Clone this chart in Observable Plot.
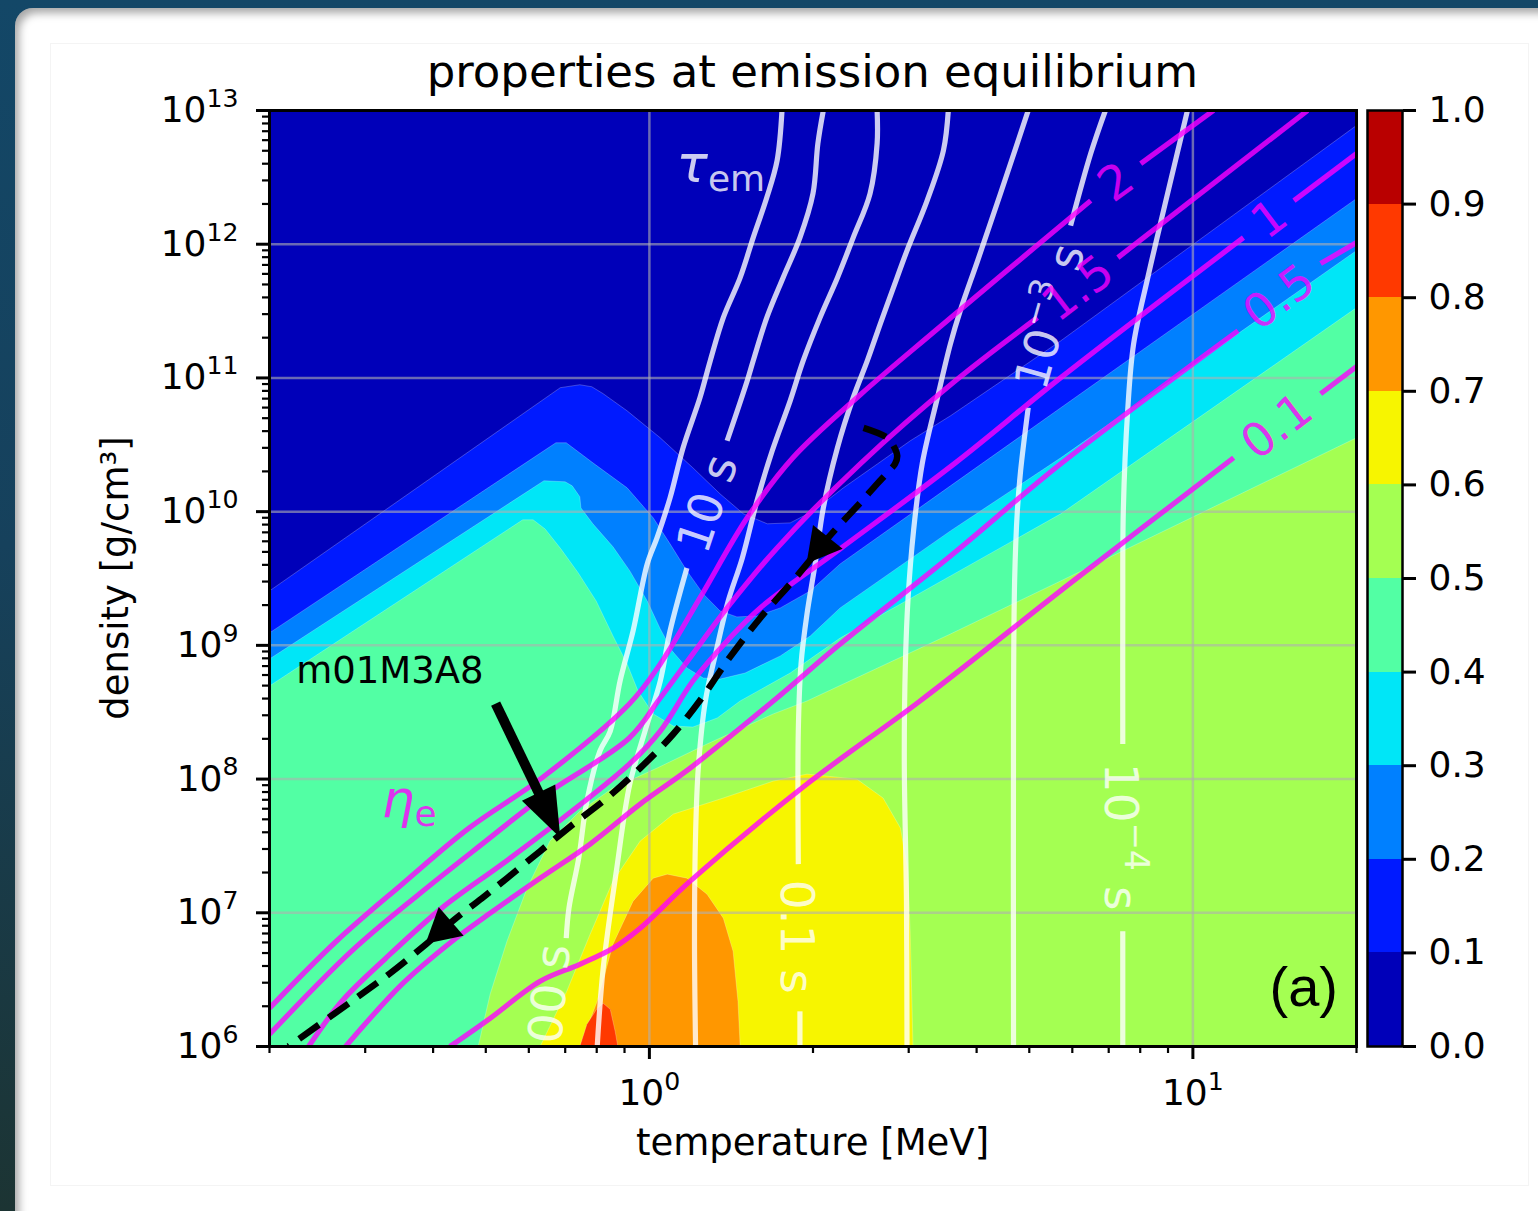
<!DOCTYPE html>
<html>
<head>
<meta charset="utf-8">
<script src="https://cdn.jsdelivr.net/npm/d3@7"></script>
<script src="https://cdn.jsdelivr.net/npm/@observablehq/plot@0.6"></script>
<style>
  html, body { margin: 0; padding: 0; width: 1538px; height: 1211px; overflow: hidden; }
  body { background: linear-gradient(180deg, #134767 0%, #16415c 45%, #1c3433 100%); font-family: "DejaVu Sans", sans-serif; }
  #card { position: absolute; left: 15px; top: 8px; width: 1580px; height: 1260px; background: #fff;
          border-radius: 18px; box-shadow: inset 4px 5px 9px rgba(0, 0, 0, 0.35); }
  #figure { position: absolute; left: 50px; top: 43px; width: 1477px; height: 1141px; border: 1px solid #f4f4f4; }
  #main { position: absolute; left: 0; top: 0; }
  #cbar { position: absolute; left: 1360px; top: 0; }
  svg text { white-space: pre; }
</style>
</head>
<body>
<div id="card"></div>
<div id="figure"></div>
<div id="main"></div>
<div id="cbar"></div>
<script>
// ---- axes -------------------------------------------------------------
const tempDomain = [0.2, 20];          // MeV
const rhoDomain = [1e6, 1e13];         // g/cm^3
const tempTicks = [1, 10];
const tempMinorTicks = [0.2, 0.3, 0.4, 0.5, 0.6, 0.7, 0.8, 0.9, 2, 3, 4, 5, 6, 7, 8, 9, 20];
const rhoTicks = [1e6, 1e7, 1e8, 1e9, 1e10, 1e11, 1e12, 1e13];
const rhoMinorTicks = rhoTicks.slice(0, -1).flatMap(d => [2, 3, 4, 5, 6, 7, 8, 9].map(k => k * d));

// ---- filled levels (colour bar) ------------------------------------------
const levels = [0, 0.1, 0.2, 0.3, 0.4, 0.5, 0.6, 0.7, 0.8, 0.9, 1.0];
const levelColors = ["#0000b9", "#001aff", "#0080ff", "#00e6f7", "#52ffa4",
                     "#a4ff52", "#f7f500", "#ff9700", "#ff3900", "#b90000"];

// Level boundaries, points as [log10 T/MeV, log10 rho/(g cm^-3)]
const edge01 = [[-0.699,9.407],[-0.164,10.927],[-0.128,10.949],[-0.106,10.934],[-0.085,10.882],[-0.041,10.754],
  [0.020,10.552],[0.080,10.328],[0.130,10.133],[0.173,9.984],[0.217,9.909],[0.259,9.916],[0.302,10.006],
  [0.357,10.178],[0.420,10.358],[0.480,10.530],[0.554,10.717],[0.757,11.278],[1.301,12.888]];
const edge02 = [[-0.699,9.093],[-0.172,10.515],[-0.153,10.515],[-0.104,10.365],[-0.041,10.178],[0.007,9.954],
  [0.038,9.759],[0.069,9.557],[0.099,9.385],[0.130,9.257],[0.161,9.213],[0.198,9.220],[0.241,9.280],
  [0.296,9.407],[0.351,9.609],[0.554,10.193],[0.757,10.777],[1.301,12.341]];
const edge03 = [[-0.699,8.898],[-0.194,10.231],[-0.155,10.223],[-0.142,10.193],[-0.128,10.111],[-0.126,10.028],
  [-0.104,9.909],[-0.067,9.737],[-0.036,9.557],[-0.004,9.332],[0.020,9.123],[0.042,8.958],[0.069,8.831],
  [0.099,8.756],[0.130,8.748],[0.176,8.793],[0.241,8.921],[0.296,9.070],[0.351,9.280],[0.554,9.856],
  [0.757,10.403],[1.301,11.952]];
const edge04 = [[-0.699,8.696],[-0.233,9.939],[-0.214,9.939],[-0.192,9.871],[-0.163,9.722],[-0.131,9.542],
  [-0.098,9.332],[-0.067,9.070],[-0.041,8.861],[-0.021,8.659],[0.007,8.487],[0.044,8.397],[0.080,8.389],
  [0.125,8.457],[0.167,8.584],[0.259,8.793],[0.351,9.055],[0.554,9.519],[0.757,9.984],[1.301,11.525]];
const edge05 = [[-0.315,6],[-0.293,6.391],[-0.262,6.787],[-0.225,7.184],[-0.183,7.536],[-0.128,7.760],
  [-0.067,7.933],[0.014,8.082],[0.106,8.262],[0.228,8.487],[0.290,8.584],[0.554,9.085],[0.757,9.482],[1.301,10.552]];
const edge06 = [[-0.201,6],[-0.152,6.413],[-0.109,6.840],[-0.067,7.237],[-0.017,7.536],[0.044,7.738],[0.136,7.858],
  [0.228,7.985],[0.290,8.037],[0.382,7.999],[0.430,7.858],[0.462,7.633],[0.475,7.334],[0.480,6.840],[0.485,6]];
const edge07 = [[-0.128,6],[-0.096,6.338],[-0.067,6.765],[-0.030,7.087],[0.007,7.259],[0.033,7.289],[0.069,7.259],
  [0.106,7.139],[0.136,6.960],[0.154,6.713],[0.163,6.338],[0.167,6]];
const edge08 = [[-0.128,6],[-0.115,6.166],[-0.096,6.286],[-0.085,6.323],[-0.072,6.278],[-0.063,6.114],[-0.058,6]];
const bandEdges = [
  {level: 0.1, edge: edge01}, {level: 0.2, edge: edge02}, {level: 0.3, edge: edge03}, {level: 0.4, edge: edge04},
  {level: 0.5, edge: edge05}, {level: 0.6, edge: edge06}, {level: 0.7, edge: edge07}, {level: 0.8, edge: edge08}
];

// Emission time-scale contours (white), each a list of segments
const tau100 = [[[0.244,13],[0.235,12.626],[0.216,12.349],[0.191,12.049],[0.167,11.750],[0.136,11.451],[0.112,11.129],
  [0.093,10.852],[0.062,10.478],[0.038,10.103],[0.014,9.804],[-0.004,9.609],[-0.030,9.108],[-0.054,8.733],
  [-0.072,8.359],[-0.091,8.210],[-0.115,7.835],[-0.130,7.409],[-0.148,7.035],[-0.153,6.810]]];
const tau10 = [[[0.320,13],[0.310,12.753],[0.301,12.379],[0.277,12.049],[0.246,11.750],[0.216,11.451],[0.191,11.129],
  [0.180,10.979],[0.143,10.530]],
  [[0.069,9.579],[0.038,9.108],[0.020,8.733],[-0.008,8.359],[-0.036,7.963],[-0.060,7.334],[-0.085,6.585],[-0.096,6]]];
const tau1 = [[[0.419,13],[0.419,12.753],[0.406,12.379],[0.375,12.049],[0.346,11.750],[0.314,11.451],[0.283,11.129],
  [0.259,10.829],[0.226,10.455],[0.198,10.081],[0.171,9.654],[0.145,9.332],[0.123,8.958],[0.103,8.584],
  [0.090,8.082],[0.085,7.588],[0.083,6.840],[0.085,6]]];
const tau01 = [[[0.550,13],[0.541,12.701],[0.511,12.326],[0.474,11.952],[0.449,11.675],[0.425,11.406],[0.401,11.129],
  [0.375,10.852],[0.346,10.478],[0.320,10.028],[0.305,9.609],[0.290,9.235],[0.279,8.861],[0.274,8.359],[0.274,7.364]],
  [[0.277,6.263],[0.277,6]]];
const tau001 = [[[0.697,13],[0.646,12.379],[0.604,11.877],[0.572,11.503],[0.554,11.256],[0.530,10.852],[0.502,10.358],
  [0.486,9.856],[0.476,9.355],[0.471,8.861],[0.469,8.135],[0.473,7.087],[0.474,6]]];
const tau1e3 = [[[0.839,13],[0.812,12.678],[0.775,12.139]],
  [[0.697,10.777],[0.683,10.305],[0.677,10.006],[0.672,9.482],[0.670,8.584],[0.670,6]]];
const tau1e4 = [[[0.990,13],[0.968,12.626],[0.946,12.252],[0.917,11.750],[0.891,11.256],[0.880,10.754],[0.872,10.006],
  [0.871,9.258],[0.871,8.262]],
  [[0.871,6.862],[0.871,6]]];
const tauLines = [tau100, tau10, tau1, tau01, tau001, tau1e3, tau1e4];
const tauLabels = [
  {line: tau100, text: "100 s", at: [-0.187, 6.279]},
  {line: tau10, text: "10 s", at: [0.106, 10.058]},
  {line: tau01, text: "0.1 s", at: [0.275, 6.817]},
  {line: tau1e3, text: "10^\u22123 s", at: [0.736, 11.458]},
  {line: tau1e4, text: "10^\u22124 s", at: [0.871, 7.566]}
];

// Electron degeneracy contours (magenta)
const eta01 = [[[-0.367,6],[-0.293,6.211],[-0.201,6.488],[-0.128,6.615],[-0.067,6.735],[-0.017,6.885],[0.075,7.237],
  [0.290,7.963],[0.498,8.584],[0.780,9.482],[1.075,10.403]],
  [[1.235,10.882],[1.301,11.084]]];
const eta05 = [[[-0.559,6],[-0.455,6.466],[-0.363,6.787],[-0.293,6.997],[-0.201,7.259],[-0.109,7.514],[-0.017,7.813],
  [0.075,8.082],[0.228,8.584],[0.351,9.010],[0.554,9.669],[0.757,10.358],[1.083,11.353]],
  [[1.235,11.855],[1.301,12.012]]];
const eta1 = [[[-0.627,6],[-0.566,6.338],[-0.485,6.660],[-0.382,7.035],[-0.271,7.364],[-0.166,7.686],[-0.037,8.112],
  [0.020,8.359],[0.080,8.733],[0.143,9.033],[0.204,9.280],[0.351,9.722],[0.563,10.365],[0.757,11.002],[1.093,12.049]],
  [[1.186,12.326],[1.301,12.678]]];
const eta15 = [[[-0.699,6.091],[-0.548,6.713],[-0.424,7.139],[-0.301,7.536],[-0.190,7.888],[-0.037,8.307],[0.020,8.606],
  [0.080,8.936],[0.143,9.280],[0.235,9.729],[0.388,10.358],[0.563,10.979],[0.714,11.451]],
  [[0.862,11.900],[1.211,13]]];
const eta2 = [[[-0.699,6.286],[-0.576,6.787],[-0.455,7.214],[-0.332,7.633],[-0.198,8.008],[-0.037,8.561],[0.020,8.861],
  [0.093,9.355],[0.180,9.954],[0.264,10.403],[0.388,10.874],[0.526,11.353],[0.812,12.326]],
  [[0.904,12.603],[1.038,13]]];
const etaLines = [eta01, eta05, eta1, eta15, eta2];
const etaLabels = [
  {line: eta2, text: "2", at: [0.858, 12.469]},
  {line: eta15, text: "1.5", at: [0.788, 11.675]},
  {line: eta1, text: "1", at: [1.140, 12.192]},
  {line: eta05, text: "0.5", at: [1.158, 11.608]},
  {line: eta01, text: "0.1", at: [1.154, 10.642]}
];

// Trajectory of model m01M3A8 (dashed) and its direction arrows
const track = [[0.394,10.627],[0.438,10.552],[0.449,10.493],[0.456,10.418],[0.452,10.358],[0.441,10.305],
  [0.419,10.208],[0.388,10.066],[0.357,9.931],[0.327,9.796],[0.290,9.609],[0.264,9.482],[0.204,9.205],
  [0.143,8.883],[0.099,8.621],[0.044,8.337],[-0.017,8.082],[-0.078,7.858],[-0.140,7.663],[-0.201,7.461],
  [-0.262,7.259],[-0.308,7.109],[-0.358,6.952],[-0.411,6.765],[-0.477,6.548],[-0.548,6.338],[-0.664,6]];
const trackArrows = [[0.290, 9.609], [-0.411, 6.765]];
const modelNote = {label: "m01M3A8", text: [-0.649, 8.805], from: [-0.282, 8.561], to: [-0.163, 7.558]};
const tauTag = {at: [0.051, 12.461]};
const etaTag = {at: [-0.492, 7.716]};

// ---- helpers ------------------------------------------------------------
const toPoint = ([lt, lr]) => ({T: 10 ** lt, rho: 10 ** lr});
const ns = "http://www.w3.org/2000/svg";
function el(tag, attrs = {}) {
  const e = document.createElementNS(ns, tag);
  for (const k in attrs) e.setAttribute(k, attrs[k]);
  return e;
}
// "10^13" / "10^−3 s" → base text with a raised exponent
function mathText(node, str, size) {
  const m = /^([^\^]*)\^(\S+)(.*)$/.exec(str);
  node.textContent = "";
  if (!m) { node.textContent = str; return node; }
  node.append(m[1]);
  const sup = el("tspan", {"font-size": size * 0.7, dy: -0.42 * size});
  sup.textContent = m[2];
  node.append(sup);
  if (m[3]) {
    const rest = el("tspan", {"font-size": size, dy: 0.42 * size});
    rest.textContent = m[3];
    node.append(rest);
  }
  return node;
}

const [tMin, tMax] = tempDomain;
const [rMin, rMax] = rhoDomain;
const bandPolygons = [{level: 0, points: [{T: tMin, rho: rMin}, {T: tMin, rho: rMax}, {T: tMax, rho: rMax}, {T: tMax, rho: rMin}]}]
  .concat(bandEdges.map(({level, edge}) => {
    const pts = edge.map(toPoint);
    if (pts[pts.length - 1].T > tMax * 0.99) pts.push({T: tMax, rho: rMin});
    if (pts[0].T < tMin * 1.01) pts.push({T: tMin, rho: rMin});
    return {level, points: pts};
  }));
const segRows = line => line.flatMap((seg, i) => seg.map(p => ({...toPoint(p), seg: i})));

const colorScale = {type: "threshold", domain: levels.slice(1, -1), range: levelColors};

// Labels, arrows and annotation text drawn with the plot's own scales
function overlay(index, scales, values, dim) {
  const {x, y} = scales;
  const g = el("g", {"font-family": "DejaVu Sans, sans-serif"});
  const left = dim.marginLeft, right = dim.width - dim.marginRight;
  const top = dim.marginTop, bottom = dim.height - dim.marginBottom;
  const cx = (left + right) / 2;
  const px = ([lt, lr]) => [x(10 ** lt), y(10 ** lr)];

  const defs = el("defs");
  const cp = el("clipPath", {id: "frame-clip"});
  cp.append(el("rect", {x: left, y: top, width: right - left, height: bottom - top}));
  defs.append(cp);
  g.append(defs);

  // direction of a polyline near a screen point
  function nearestDir(segs, [ax, ay]) {
    let best = Infinity, dir = [1, 0];
    for (const seg of segs) {
      const pts = seg.map(px);
      for (let i = 1; i < pts.length; i++) {
        const [x0, y0] = pts[i - 1], [x1, y1] = pts[i];
        const dx = x1 - x0, dy = y1 - y0, L2 = dx * dx + dy * dy || 1;
        const t = Math.max(0, Math.min(1, ((ax - x0) * dx + (ay - y0) * dy) / L2));
        const d = Math.hypot(ax - (x0 + t * dx), ay - (y0 + t * dy));
        if (d < best) { best = d; dir = [dx, dy]; }
      }
    }
    return dir;
  }

  // inline contour labels
  const labels = el("g", {"clip-path": "url(#frame-clip)"});
  const addLabels = (list, fill) => {
    for (const lab of list) {
      const [ax, ay] = px(lab.at);
      const [dx, dy] = nearestDir(lab.line, [ax, ay]);
      let ang = Math.atan2(dy, dx) * 180 / Math.PI;
      while (ang > 91) ang -= 180;
      while (ang <= -89) ang += 180;
      const t = el("text", {transform: `translate(${ax},${ay}) rotate(${ang})`, "text-anchor": "middle",
        dy: "0.36em", "font-size": 47, fill, "fill-opacity": 0.8});
      mathText(t, lab.text, 47);
      labels.append(t);
    }
  };
  addLabels(tauLabels, "#ffffff");
  addLabels(etaLabels, "#ff00ff");
  g.append(labels);

  // arrowheads along the trajectory
  const trackPts = [track];
  for (const a of trackArrows) {
    const [tx, ty] = px(a);
    const [dx, dy] = nearestDir(trackPts, [tx, ty]);
    const L = Math.hypot(dx, dy) || 1, ux = dx / L, uy = dy / L;
    const len = 34, half = 19;
    const bx = tx - ux * len, by = ty - uy * len;
    g.append(el("polygon", {points: `${tx},${ty} ${bx - uy * half},${by + ux * half} ${bx + uy * half},${by - ux * half}`, fill: "black"}));
  }

  // model annotation with arrow
  {
    const [sx, sy] = px(modelNote.from), [tx, ty] = px(modelNote.to);
    const L = Math.hypot(tx - sx, ty - sy), ux = (tx - sx) / L, uy = (ty - sy) / L;
    const headLen = 50, half = 18.5;
    const bx = tx - ux * headLen, by = ty - uy * headLen;
    g.append(el("line", {x1: sx, y1: sy, x2: bx + ux * 2, y2: by + uy * 2, stroke: "black", "stroke-width": 10}));
    g.append(el("polygon", {points: `${tx},${ty} ${bx - uy * half},${by + ux * half} ${bx + uy * half},${by - ux * half}`, fill: "black"}));
    const [nx, ny] = px(modelNote.text);
    const t = el("text", {x: nx, y: ny, dy: "0.32em", "text-anchor": "start", "font-size": 37, fill: "black"});
    t.textContent = modelNote.label;
    g.append(t);
  }

  // symbol tags for the two contour families
  const tag = (pos, sym, sub, fill) => {
    const [tx, ty] = px(pos);
    const t = el("text", {x: tx, y: ty, "text-anchor": "start", "font-size": 52, fill, "fill-opacity": 0.8});
    const s = el("tspan", {"font-style": "italic"}); s.textContent = sym;
    const b = el("tspan", {"font-size": 36, dy: 9}); b.textContent = sub;
    t.append(s, b);
    g.append(t);
  };
  tag(tauTag.at, "\u03c4", "em", "#ffffff");
  tag(etaTag.at, "\u03b7", "e", "#ff00ff");

  // panel tag
  const pa = el("text", {x: right - 18, y: bottom - 40, "text-anchor": "end", "font-size": 56,
    "font-family": "Liberation Sans, Arial, sans-serif", fill: "black"});
  pa.textContent = "(a)";
  g.append(pa);

  // title and axis labels
  const title = el("text", {x: cx, y: top - 23, "text-anchor": "middle", "font-size": 45, fill: "black"});
  title.textContent = "properties at emission equilibrium";
  g.append(title);
  const xl = el("text", {x: cx, y: bottom + 109, "text-anchor": "middle", "font-size": 37, fill: "black"});
  xl.textContent = "temperature [MeV]";
  g.append(xl);
  const yl = el("text", {transform: `translate(${left - 141},${(top + bottom) / 2}) rotate(-90)`,
    "text-anchor": "middle", "font-size": 37, fill: "black"});
  yl.textContent = "density [g/cm\u00b3]";
  g.append(yl);
  return g;
}

// ---- main panel ----------------------------------------------------------
const gridStyle = {stroke: "#b0b0b0", strokeOpacity: 0.6, strokeWidth: 2.5};
const main = Plot.plot({
  width: 1360, height: 1211,
  marginLeft: 269, marginRight: 4, marginTop: 110, marginBottom: 165,
  style: {background: "transparent", fontFamily: "DejaVu Sans, sans-serif", maxWidth: "none", overflow: "visible"},
  x: {type: "log", domain: tempDomain, axis: null},
  y: {type: "log", domain: rhoDomain, axis: null},
  color: colorScale,
  marks: [
    ...bandPolygons.map(b => Plot.line(b.points, {x: "T", y: "rho", fill: () => b.level, stroke: "#ffffff",
      strokeOpacity: b.level ? 0.3 : 0, strokeWidth: 0.8, curve: "linear", clip: true})),
    Plot.ruleX(tempTicks, gridStyle),
    Plot.ruleY(rhoTicks.slice(1, -1), gridStyle),
    ...tauLines.map(l => Plot.line(segRows(l), {x: "T", y: "rho", z: "seg", stroke: "#ffffff", strokeOpacity: 0.8,
      strokeWidth: 5.2, strokeLinecap: "butt", curve: "catmull-rom", clip: true})),
    ...etaLines.map(l => Plot.line(segRows(l), {x: "T", y: "rho", z: "seg", stroke: "#ff00ff", strokeOpacity: 0.8,
      strokeWidth: 5.2, strokeLinecap: "butt", curve: "catmull-rom", clip: true})),
    Plot.line(track.map(toPoint), {x: "T", y: "rho", stroke: "black", strokeWidth: 6.5, strokeDasharray: "24,12",
      strokeLinecap: "butt", curve: "catmull-rom", clip: true}),
    overlay,
    Plot.frame({stroke: "black", strokeWidth: 3}),
    Plot.axisX(tempTicks, {anchor: "bottom", tickSize: 13, tickPadding: 20, strokeWidth: 3, fontSize: 36,
      tickFormat: d => `10^${Math.round(Math.log10(d))}`, label: null}),
    Plot.axisX(tempMinorTicks, {anchor: "bottom", tickSize: 7, strokeWidth: 2.2, tickFormat: () => "", label: null}),
    Plot.axisY(rhoTicks, {anchor: "left", tickSize: 13, tickPadding: 18, strokeWidth: 3, fontSize: 36,
      tickFormat: d => `10^${Math.round(Math.log10(d))}`, label: null}),
    Plot.axisY(rhoMinorTicks, {anchor: "left", tickSize: 7, strokeWidth: 2.2, tickFormat: () => "", label: null})
  ]
});
main.querySelectorAll("text").forEach(t => {
  if (!t.querySelector("tspan") && t.textContent.includes("^")) mathText(t, t.textContent, 36);
});
document.getElementById("main").append(main);

// ---- colour bar ----------------------------------------------------------
const bands = levels.slice(0, -1).map((lo, i) => ({lo, hi: levels[i + 1]}));
const colorbar = Plot.plot({
  width: 178, height: 1211,
  marginLeft: 7, marginRight: 136, marginTop: 110, marginBottom: 165,
  style: {background: "transparent", fontFamily: "DejaVu Sans, sans-serif", maxWidth: "none"},
  x: {domain: [0, 1], axis: null},
  y: {domain: [0, 1], axis: null},
  color: colorScale,
  marks: [
    Plot.rect(bands, {x1: 0, x2: 1, y1: "lo", y2: "hi", fill: "lo", shapeRendering: "crispEdges"}),
    Plot.frame({stroke: "black", strokeWidth: 2.5}),
    Plot.axisY(levels, {anchor: "right", tickSize: 13, tickPadding: 13, strokeWidth: 3, fontSize: 36,
      tickFormat: d => d.toFixed(1), label: null})
  ]
});
document.getElementById("cbar").append(colorbar);
</script>
</body>
</html>
